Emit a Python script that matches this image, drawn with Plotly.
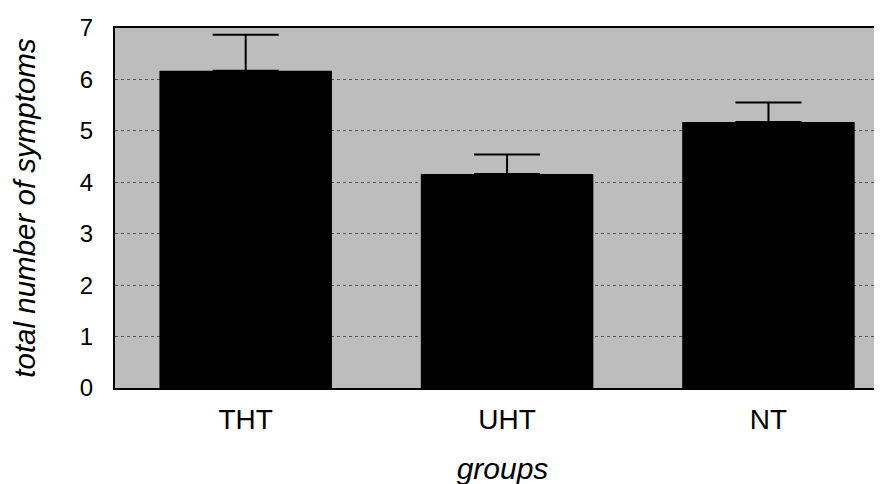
import plotly.graph_objects as go

categories = ["THT", "UHT", "NT"]
means = [6.17, 4.16, 5.17]
errors = [0.70, 0.38, 0.38]
y_ticks = [0, 1, 2, 3, 4, 5, 6, 7]

FONT = "Liberation Sans, Arial, sans-serif"

fig = go.Figure()
fig.add_trace(go.Bar(
    x=categories,
    y=means,
    width=0.66,
    marker=dict(color="black", line=dict(width=0)),
    error_y=dict(type="data", array=errors, symmetric=False,
                 arrayminus=[0, 0, 0], color="black", thickness=2, width=33),
    showlegend=False,
))

fig.update_layout(
    width=882, height=484,
    margin=dict(l=107, r=0, t=20, b=104),
    paper_bgcolor="white",
    plot_bgcolor="#bdbdbd",
    font=dict(family=FONT, size=24, color="black"),
    xaxis=dict(
        range=[-0.5, 2.465], automargin=False,
        showline=True, linecolor="black", linewidth=2, mirror=True,
        showgrid=False, ticks="", ticklabelstandoff=5,
        title=dict(text="<i>groups</i>", font=dict(size=30), standoff=24),
        tickfont=dict(size=28),
    ),
    yaxis=dict(
        range=[0, 7], tickvals=y_ticks, automargin=False,
        showline=True, linecolor="black", linewidth=2, mirror=False,
        showgrid=True, gridcolor="#555555", griddash="dot", gridwidth=1,
        zeroline=False, ticks="", ticklabelstandoff=15,
        title=dict(text="<i>total number of symptoms</i>", font=dict(size=29.5), standoff=36),
        tickfont=dict(size=24),
    ),
    bargap=0.34,
)

fig.write_html("out.html")
